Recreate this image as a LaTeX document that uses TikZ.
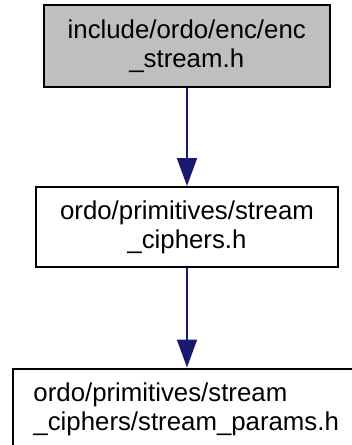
\documentclass[tikz,border=0pt]{standalone}
\usepackage{fontspec}
\setmainfont{Liberation Sans}
\usetikzlibrary{arrows.meta}
\definecolor{edgeblue}{HTML}{191970}
\definecolor{focusgray}{HTML}{BFBFBF}
\tikzset{
  filebox/.style={draw=black, line width=2pt, inner sep=0pt,
    font=\fontsize{25.8}{29}\selectfont, align=center},
  dep/.style={draw=edgeblue, line width=1.8pt,
    -{Triangle[length=28pt,width=20pt,fill=edgeblue]}}
}
\begin{document}
\begin{tikzpicture}[x=1pt,y=1pt]
  \useasboundingbox (0,0) rectangle (352,-445);
  \clip (0,0) rectangle (352,-445);
  % header being documented
  \node[filebox, fill=focusgray, minimum width=286.5pt, minimum height=82pt]
    (enc) at (186.75,-46) {include/ordo/enc/enc\\\_stream.h};
  % direct include
  \node[filebox, fill=white, minimum width=302pt, minimum height=80pt]
    (ciph) at (187,-227) {ordo/primitives/stream\\\_ciphers.h};
  % transitive include, running off the page edge
  \node[filebox, fill=white, anchor=north west, align=left, text width=330pt,
    inner xsep=21pt, inner ysep=14pt]
    (params) at (11.5,-367.5) {ordo/primitives/stream\\\_ciphers/stream\_params.h};
  \draw[dep] (enc.south -| ciph.north) -- (ciph.north);
  \draw[dep] (ciph.south) -- (ciph.south |- params.north);
\end{tikzpicture}
\end{document}
